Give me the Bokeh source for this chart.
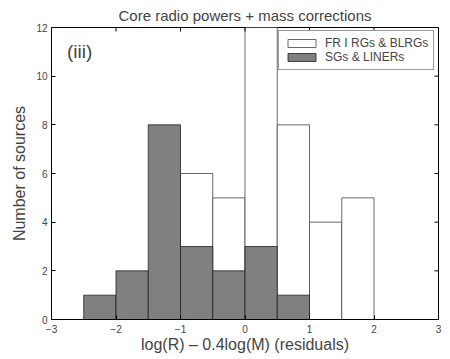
import math
from bokeh.plotting import figure
from bokeh.models import Legend, LegendItem, Label, FixedTicker, Title
from bokeh.embed import file_html
from bokeh.resources import INLINE

# Data (bins of width 0.5)
bin_edges = [-2.5, -2.0, -1.5, -1.0, -0.5, 0.0, 0.5, 1.0, 1.5, 2.0]
fr1_counts = [0, 0, 0, 6, 5, 12, 8, 4, 5]       # FR I RGs & BLRGs
sg_counts = [1, 2, 8, 3, 2, 3, 1, 0, 0]         # SGs & LINERs
x_ticks = [-3, -2, -1, 0, 1, 2, 3]
y_ticks = [0, 2, 4, 6, 8, 10, 12]
title_text = "Core radio powers + mass corrections"
xlabel_text = "log(R) \u2013 0.4log(M) (residuals)"
ylabel_text = "Number of sources"

FONT = "Liberation Sans"
X_MIN, X_MAX, Y_MIN, Y_MAX = -3, 3, 0, 12

p = figure(width=450, height=359, x_range=(X_MIN, X_MAX), y_range=(Y_MIN, Y_MAX),
           output_backend="svg", toolbar_location=None,
           min_border_left=51, min_border_right=12, min_border_top=26, min_border_bottom=40)
p.add_layout(Title(text=title_text, align="center", text_font=FONT,
                   text_font_size="15px", text_font_style="normal",
                   standoff=8, offset=0), "above")

left = bin_edges[:-1]
right = bin_edges[1:]
r1 = p.quad(left=left, right=right, bottom=0, top=fr1_counts,
            fill_color="white", line_color="#444444", line_width=0.8)
r2 = p.quad(left=left, right=right, bottom=0, top=sg_counts,
            fill_color="#808080", line_color="#222222", line_width=0.8)

# inward ticks on the top and right frame edges (half of each dash is clipped by the frame)
p.scatter(x=x_ticks, y=[Y_MAX] * len(x_ticks), marker="dash", angle=math.pi / 2,
          size=8, line_color="black", line_width=1)
p.scatter(x=[X_MAX] * len(y_ticks), y=y_ticks, marker="dash",
          size=8, line_color="black", line_width=1)

p.grid.visible = False
p.outline_line_color = "black"
p.outline_line_width = 1
p.background_fill_color = "white"
p.border_fill_color = "white"

for ax in p.xaxis + p.yaxis:
    ax.major_tick_in = 4
    ax.major_tick_out = 0
    ax.minor_tick_line_color = None
    ax.axis_line_color = "black"
    ax.major_tick_line_color = "black"
    ax.major_label_text_font = FONT
    ax.major_label_text_font_size = "10px"
    ax.axis_label_text_font = FONT
    ax.axis_label_text_font_size = "16px"
    ax.axis_label_text_font_style = "normal"

p.xaxis.ticker = FixedTicker(ticks=x_ticks)
p.yaxis.ticker = FixedTicker(ticks=y_ticks)
p.xaxis.major_label_overrides = {v: ("\u2212" + str(abs(v)) if v < 0 else str(v)) for v in x_ticks}
p.xaxis.major_label_standoff = 5
p.yaxis.major_label_standoff = 4
p.xaxis.axis_label = xlabel_text
p.xaxis.axis_label_standoff = 0
p.yaxis.axis_label = ylabel_text
p.yaxis.axis_label_standoff = 5

legend = Legend(items=[LegendItem(label="FR I RGs & BLRGs", renderers=[r1]),
                       LegendItem(label="SGs & LINERs", renderers=[r2])],
                location=(227, 249), margin=0, padding=5, spacing=0,
                glyph_width=35, glyph_height=10, label_standoff=6,
                label_text_font=FONT, label_text_font_size="12px",
                label_height=10,
                border_line_color="#333333", border_line_width=1,
                background_fill_alpha=1)
p.add_layout(legend, "center")

p.add_layout(Label(x=-2.76, y=11.0, text="(iii)", text_baseline="alphabetic",
                   text_font=FONT, text_font_size="19px"))

open("out.html", "w").write(file_html(p, INLINE))
